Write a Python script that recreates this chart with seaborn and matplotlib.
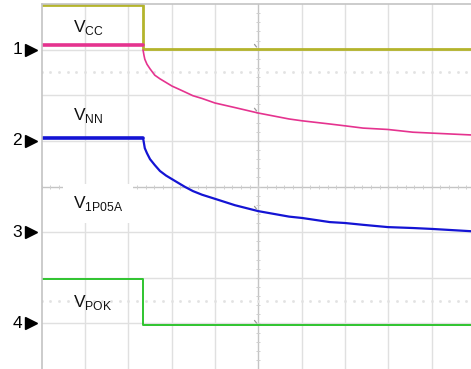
import numpy as np
import pandas as pd
import matplotlib
matplotlib.use("Agg")
import matplotlib.pyplot as plt
import seaborn as sns

# time and level in screen divisions (10 x 8 graticule)
t_trig = 2.34
t_end = 9.91
t_decay = [2.34, 2.36, 2.38, 2.43, 2.50, 2.61, 2.73, 2.87, 3.01, 3.15,
           3.31, 3.49, 3.70, 4.00, 4.46, 5.00, 5.71, 6.01, 6.65, 7.00,
           7.42, 7.99, 8.57, 9.01, 9.91]

vcc_pre = 7.11
vcc_decay = [6.99, 6.88, 6.79, 6.68, 6.58, 6.44, 6.36, 6.28, 6.20, 6.14,
             6.07, 5.99, 5.93, 5.83, 5.73, 5.61, 5.48, 5.44, 5.37, 5.33,
             5.28, 5.25, 5.19, 5.17, 5.13]

vnn_pre = 5.07
vnn_decay = [5.06, 4.95, 4.84, 4.73, 4.60, 4.47, 4.34, 4.24, 4.16, 4.08,
             3.99, 3.90, 3.82, 3.73, 3.59, 3.46, 3.34, 3.31, 3.22, 3.20,
             3.16, 3.11, 3.09, 3.07, 3.02]

v1p05_high, v1p05_low = 7.98, 7.01
vpok_high, vpok_low = 1.97, 0.96

ch_levels = [7, 5, 3, 1]
ch_names = ["1", "2", "3", "4"]

labels = ["V$_{\\mathregular{CC}}$", "V$_{\\mathregular{NN}}$",
          "V$_{\\mathregular{1P05A}}$", "V$_{\\mathregular{POK}}$"]

YELLOW = "#b4b42c"
PINK = "#e5338f"
BLUE = "#1414d4"
GREEN = "#2fc42f"
GRID = "#e0e0e0"
AXIS = "#c4c4c4"

sns.set_theme(style="white")
plt.rcParams["font.family"] = ["Liberation Sans", "DejaVu Sans"]
plt.rcParams["mathtext.fontset"] = "custom"
plt.rcParams["mathtext.rm"] = "Liberation Sans"

fig = plt.figure(figsize=(4.71, 3.69), dpi=100)
left = 41.7 / 471
ax = fig.add_axes([left, 0, 1 - left, 365 / 369])
ax.set_xlim(0, t_end)
ax.set_ylim(0, 8)
ax.set_xticks([])
ax.set_yticks([])
for side in ["right", "bottom"]:
    ax.spines[side].set_visible(False)
for side in ["left", "top"]:
    ax.spines[side].set_color(AXIS)
    ax.spines[side].set_linewidth(1.2)

# graticule
for x in range(1, 10):
    if x != 5:
        ax.axvline(x, color=GRID, lw=1, zorder=0)
for y in range(1, 8):
    if y != 4:
        ax.axhline(y, color=GRID, lw=1, zorder=0)
ax.axvline(5, color=AXIS, lw=1, zorder=0)
ax.axhline(4, color=AXIS, lw=1, zorder=0)
ticks_x = np.arange(0, 10, 0.2)
ticks_y = np.arange(0, 8, 0.2)
ax.plot(ticks_x, np.full_like(ticks_x, 4), ls="none", marker="|",
        ms=3.5, mew=0.7, color="#cfcfcf", zorder=0)
ax.plot(np.full_like(ticks_y, 5), ticks_y, ls="none", marker="_",
        ms=3.5, mew=0.7, color="#cfcfcf", zorder=0)
for y in [6.5, 1.5]:
    ax.plot(ticks_x, np.full_like(ticks_x, y), ls="none", marker="s",
            ms=0.9, color="#e2e2e2", zorder=0)

# traces
df_1p05 = pd.DataFrame({"t": [0, t_trig, t_trig, t_end],
                        "v": [v1p05_high, v1p05_high, v1p05_low, v1p05_low]})
df_pok = pd.DataFrame({"t": [0, t_trig, t_trig, t_end],
                       "v": [vpok_high, vpok_high, vpok_low, vpok_low]})
df_vcc_pre = pd.DataFrame({"t": [0, t_trig], "v": [vcc_pre, vcc_pre]})
df_vcc = pd.DataFrame({"t": t_decay, "v": vcc_decay})
df_vnn_pre = pd.DataFrame({"t": [0, t_trig], "v": [vnn_pre, vnn_pre]})
df_vnn = pd.DataFrame({"t": t_decay, "v": vnn_decay})

sns.lineplot(data=df_1p05, x="t", y="v", sort=False, estimator=None,
             color=YELLOW, lw=2.0, ax=ax)
sns.lineplot(data=df_vcc_pre, x="t", y="v", sort=False, estimator=None,
             color=PINK, lw=2.6, ax=ax)
sns.lineplot(data=df_vcc, x="t", y="v", sort=False, estimator=None,
             color=PINK, lw=1.2, ax=ax)
sns.lineplot(data=df_vnn_pre, x="t", y="v", sort=False, estimator=None,
             color=BLUE, lw=2.6, ax=ax)
sns.lineplot(data=df_vnn, x="t", y="v", sort=False, estimator=None,
             color=BLUE, lw=1.6, ax=ax)
sns.lineplot(data=df_pok, x="t", y="v", sort=False, estimator=None,
             color=GREEN, lw=1.4, ax=ax)
ax.set_xlabel("")
ax.set_ylabel("")

# small cursor marks at the centre line
for lvl in [v1p05_low, vcc_decay[15], vnn_decay[15], vpok_low]:
    ax.annotate("", xy=(5, lvl), xytext=(-4, 5), textcoords="offset points",
                arrowprops=dict(arrowstyle="-", color="#9a9a9a", lw=0.9))

# trace names
label_y = [7.39, 5.46, 3.53, 1.36]
for i, (txt, y) in enumerate(zip(labels, label_y)):
    kw = {}
    if i == 2:
        kw["bbox"] = dict(facecolor="white", edgecolor="none", pad=7)
    ax.text(0.72, y, txt, fontsize=12.5, va="baseline", ha="left",
            color="#111111", zorder=5, **kw)

# channel reference markers
for name, lvl in zip(ch_names, ch_levels):
    ax.plot([-0.25], [lvl], marker=">", ms=9, color="black",
            clip_on=False, ls="none")
    ax.text(-0.57, lvl, name, fontsize=12.5, va="center", ha="center",
            color="black", clip_on=False)

fig.savefig("out.png", dpi=100)
